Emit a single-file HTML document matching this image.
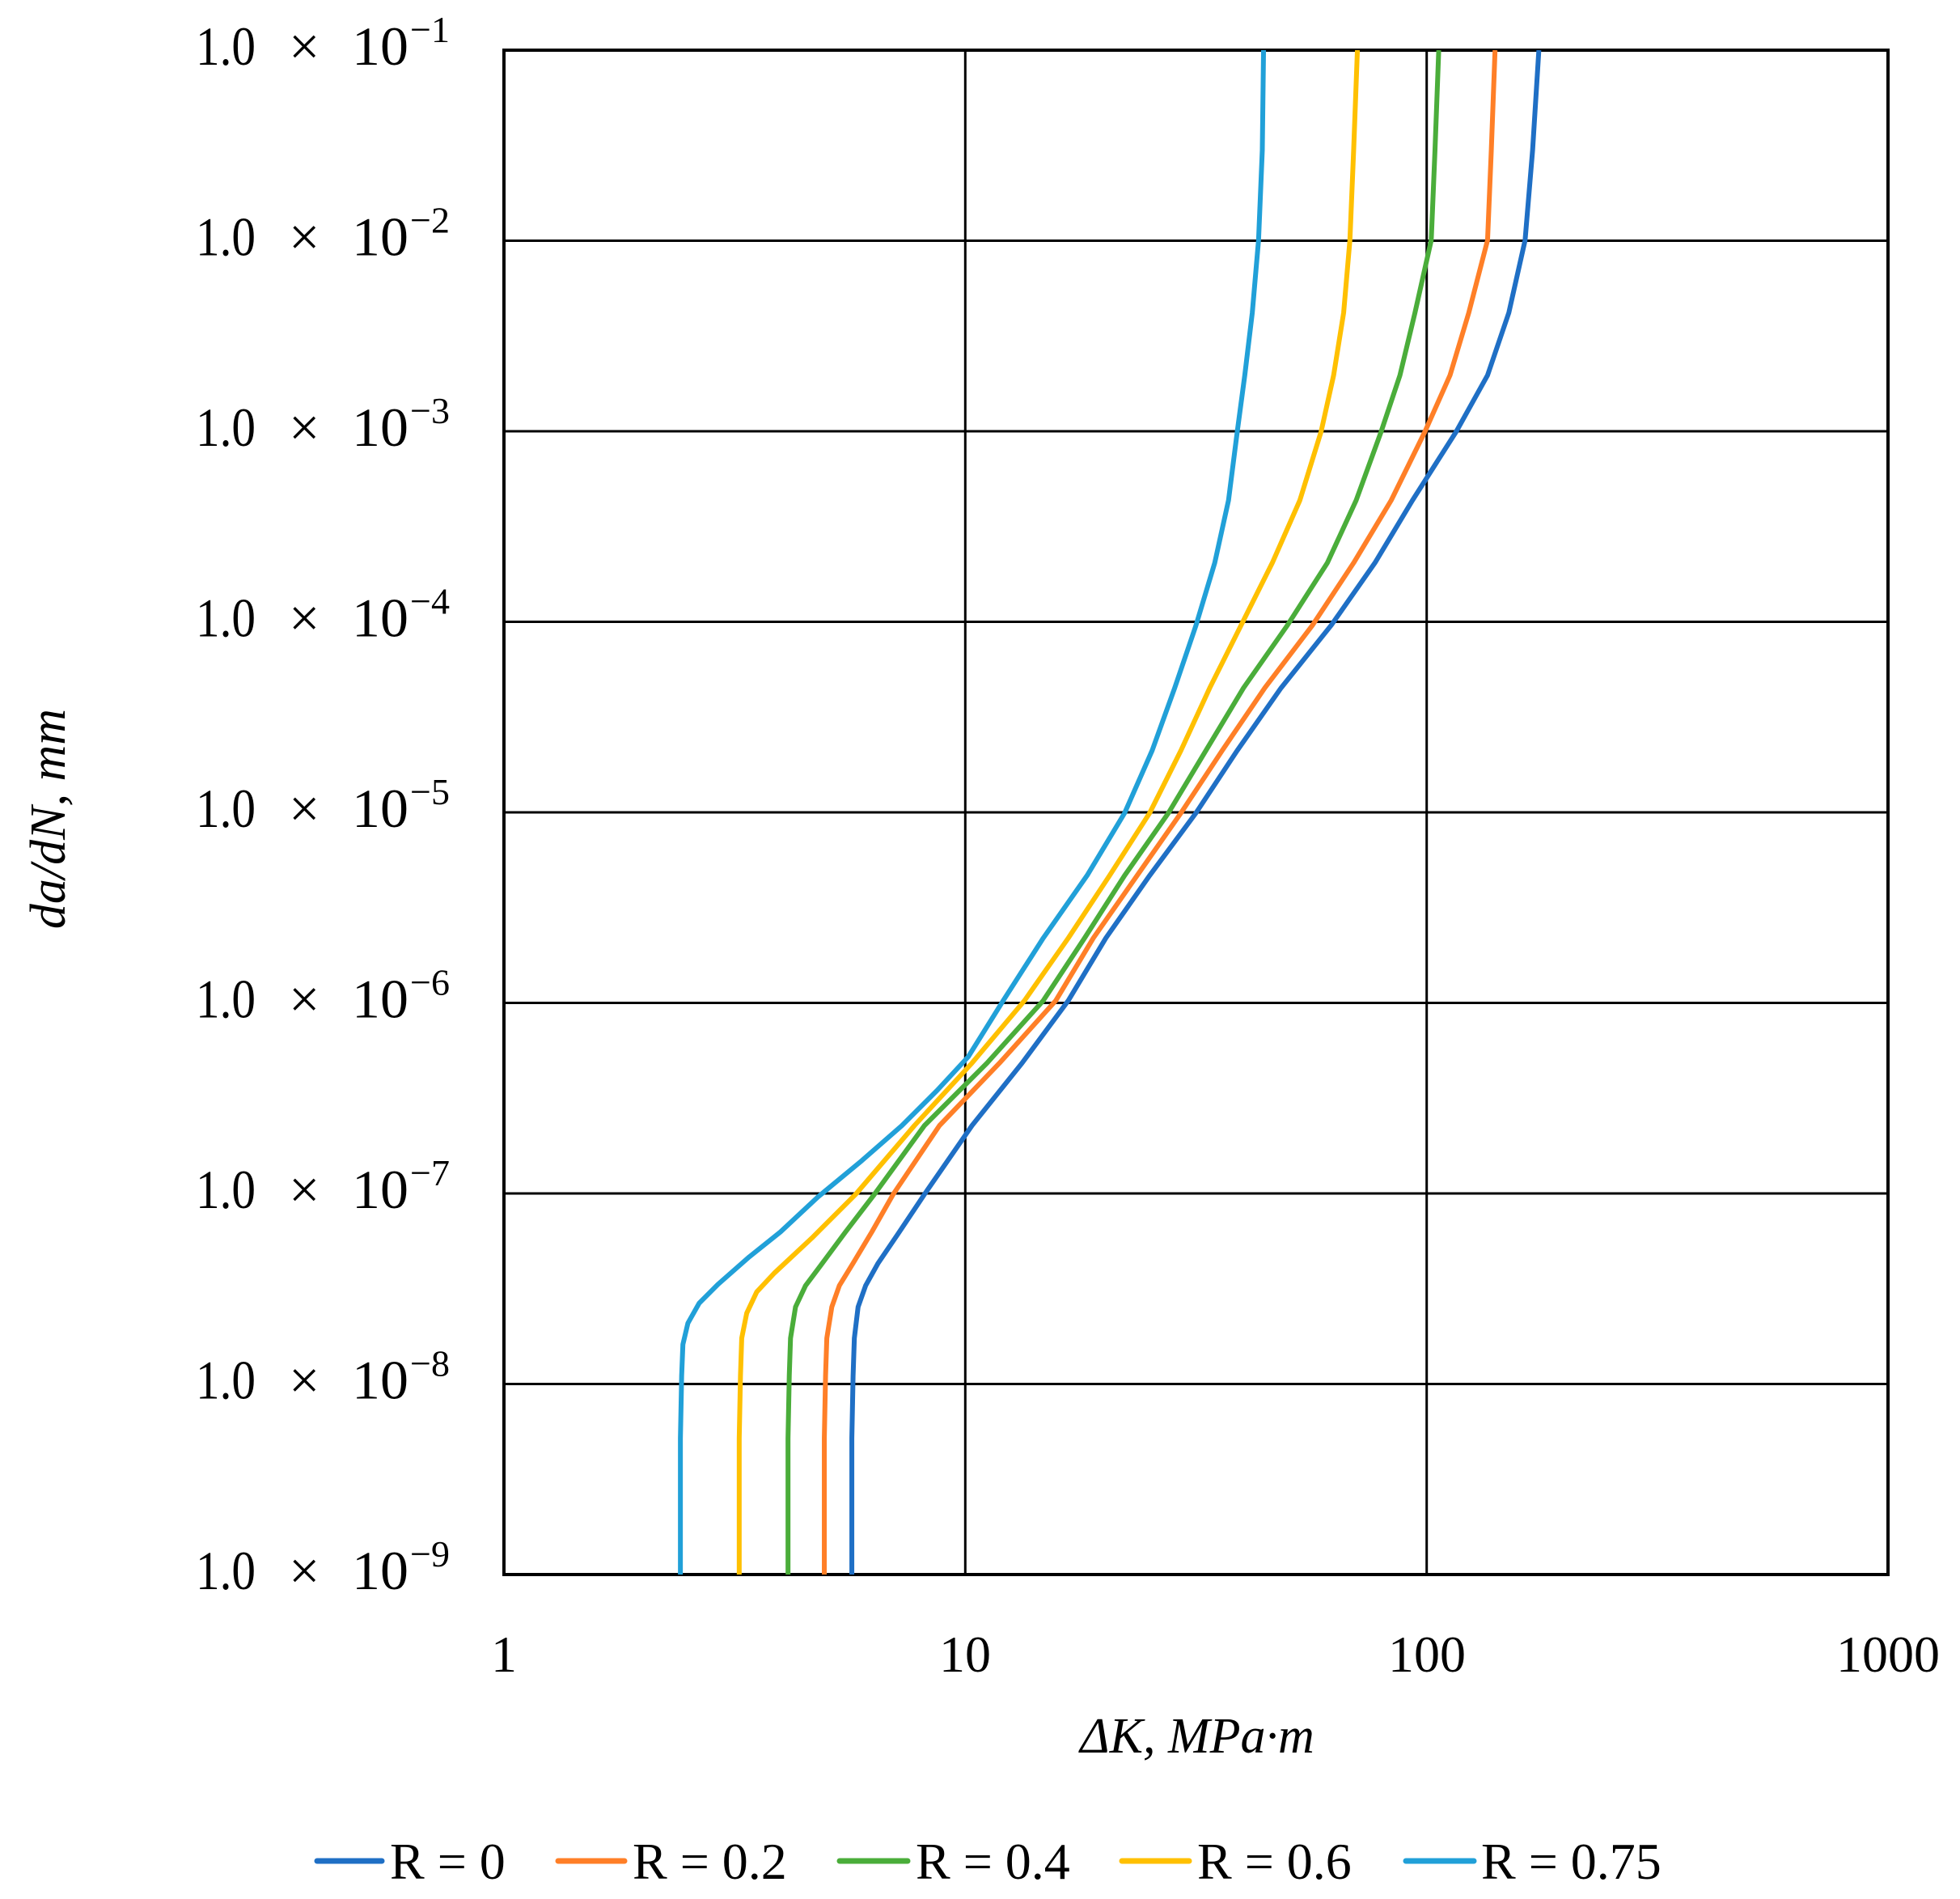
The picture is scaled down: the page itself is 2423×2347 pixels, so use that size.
<!DOCTYPE html>
<html><head><meta charset="utf-8"><style>
html,body{margin:0;padding:0;background:#fff}
svg{display:block}
text{font-family:"Liberation Serif","DejaVu Serif",serif;fill:#000}
</style></head><body>
<svg width="2423" height="2347" viewBox="0 0 2423 2347" xmlns="http://www.w3.org/2000/svg">
<rect width="2423" height="2347" fill="#fff"/>
<g stroke="#000" stroke-width="3">
<line x1="623" y1="297.5" x2="2334" y2="297.5"/>
<line x1="623" y1="533" x2="2334" y2="533"/>
<line x1="623" y1="768.5" x2="2334" y2="768.5"/>
<line x1="623" y1="1004" x2="2334" y2="1004"/>
<line x1="623" y1="1239.5" x2="2334" y2="1239.5"/>
<line x1="623" y1="1475" x2="2334" y2="1475"/>
<line x1="623" y1="1710.5" x2="2334" y2="1710.5"/>
<line x1="1193.3" y1="62" x2="1193.3" y2="1946"/>
<line x1="1763.7" y1="62" x2="1763.7" y2="1946"/>
</g>
<rect x="623" y="62" width="1711" height="1884" fill="none" stroke="#000" stroke-width="4"/>
<g transform="translate(623,62) scale(1.547,1.5455) translate(-404,-40)" fill="none" stroke-width="6" stroke-linejoin="round">
<polyline vector-effect="non-scaling-stroke" stroke="#1f6fc5" points="682,1259 682,1150 683,1100 684,1070 687,1045 693,1028 703,1010 720,985 740,955 778,900 818,850 855,800 885,750 920,700 957,650 990,600 1025,550 1065,500 1100,450 1130,400 1165,345 1190,300 1207,250 1220,192 1226,120 1231,40"/>
<polyline vector-effect="non-scaling-stroke" stroke="#ff7f27" points="660,1259 660,1150 661,1100 662,1070 666,1045 672,1028 683,1010 698,985 715,955 752,900 800,850 845,800 875,750 910,700 945,650 978,600 1012,550 1050,500 1083,450 1113,400 1140,345 1160,300 1175,250 1190,192 1193,120 1196,40"/>
<polyline vector-effect="non-scaling-stroke" stroke="#4aad3a" points="631,1259 631,1150 632,1100 633,1070 637,1045 645,1028 657,1012 677,985 700,955 740,900 790,850 835,800 868,750 900,700 935,650 965,600 995,550 1030,500 1062,450 1085,400 1105,345 1120,300 1132,250 1145,192 1148,120 1151,40"/>
<polyline vector-effect="non-scaling-stroke" stroke="#ffc000" points="592,1259 592,1150 593,1100 594,1070 598,1050 606,1033 620,1018 650,990 685,955 732,900 778,850 820,800 855,750 888,700 920,650 945,600 968,550 993,500 1018,450 1040,400 1057,345 1067,300 1075,250 1080,192 1083,120 1086,40"/>
<polyline vector-effect="non-scaling-stroke" stroke="#21a0d8" points="545,1259 545,1150 546,1100 547,1075 551,1058 560,1042 575,1027 600,1005 625,985 655,957 690,928 722,900 750,872 775,845 803,800 835,750 870,700 900,650 922,600 940,550 957,500 972,450 983,400 990,345 996,300 1002,250 1007,192 1010,120 1011,40"/>
</g>
<g font-size="68" id="yl">
<g transform="translate(0,0)"><text x="242" y="80" textLength="74" lengthAdjust="spacingAndGlyphs">1.0</text><text x="357" y="80">×</text><text x="435" y="80" textLength="70" lengthAdjust="spacingAndGlyphs">10</text><text x="507" y="52" font-size="46">−1</text></g>
<g transform="translate(0,235.5)"><text x="242" y="80" textLength="74" lengthAdjust="spacingAndGlyphs">1.0</text><text x="357" y="80">×</text><text x="435" y="80" textLength="70" lengthAdjust="spacingAndGlyphs">10</text><text x="507" y="52" font-size="46">−2</text></g>
<g transform="translate(0,471)"><text x="242" y="80" textLength="74" lengthAdjust="spacingAndGlyphs">1.0</text><text x="357" y="80">×</text><text x="435" y="80" textLength="70" lengthAdjust="spacingAndGlyphs">10</text><text x="507" y="52" font-size="46">−3</text></g>
<g transform="translate(0,706.5)"><text x="242" y="80" textLength="74" lengthAdjust="spacingAndGlyphs">1.0</text><text x="357" y="80">×</text><text x="435" y="80" textLength="70" lengthAdjust="spacingAndGlyphs">10</text><text x="507" y="52" font-size="46">−4</text></g>
<g transform="translate(0,942)"><text x="242" y="80" textLength="74" lengthAdjust="spacingAndGlyphs">1.0</text><text x="357" y="80">×</text><text x="435" y="80" textLength="70" lengthAdjust="spacingAndGlyphs">10</text><text x="507" y="52" font-size="46">−5</text></g>
<g transform="translate(0,1177.5)"><text x="242" y="80" textLength="74" lengthAdjust="spacingAndGlyphs">1.0</text><text x="357" y="80">×</text><text x="435" y="80" textLength="70" lengthAdjust="spacingAndGlyphs">10</text><text x="507" y="52" font-size="46">−6</text></g>
<g transform="translate(0,1413)"><text x="242" y="80" textLength="74" lengthAdjust="spacingAndGlyphs">1.0</text><text x="357" y="80">×</text><text x="435" y="80" textLength="70" lengthAdjust="spacingAndGlyphs">10</text><text x="507" y="52" font-size="46">−7</text></g>
<g transform="translate(0,1648.5)"><text x="242" y="80" textLength="74" lengthAdjust="spacingAndGlyphs">1.0</text><text x="357" y="80">×</text><text x="435" y="80" textLength="70" lengthAdjust="spacingAndGlyphs">10</text><text x="507" y="52" font-size="46">−8</text></g>
<g transform="translate(0,1884)"><text x="242" y="80" textLength="74" lengthAdjust="spacingAndGlyphs">1.0</text><text x="357" y="80">×</text><text x="435" y="80" textLength="70" lengthAdjust="spacingAndGlyphs">10</text><text x="507" y="52" font-size="46">−9</text></g>
</g>
<g font-size="64" text-anchor="middle">
<text x="623" y="2066">1</text>
<text x="1193" y="2066">10</text>
<text x="1764" y="2066">100</text>
<text x="2334" y="2066">1000</text>
</g>
<text x="1480" y="2166" font-size="62" font-style="italic" text-anchor="middle">ΔK, MPa·m</text>
<text transform="translate(80,1012) rotate(-90)" font-size="62" font-style="italic" text-anchor="middle">da/dN, mm</text>
<g stroke-width="7" stroke-linecap="round">
<line x1="392" y1="2300" x2="472" y2="2300" stroke="#1f6fc5"/>
<line x1="690" y1="2300" x2="772" y2="2300" stroke="#ff7f27"/>
<line x1="1038" y1="2300" x2="1122" y2="2300" stroke="#4aad3a"/>
<line x1="1387" y1="2300" x2="1470" y2="2300" stroke="#ffc000"/>
<line x1="1738" y1="2300" x2="1822" y2="2300" stroke="#21a0d8"/>
</g>
<g font-size="64">
<text x="482" y="2322">R = 0</text>
<text x="782" y="2322">R = 0.2</text>
<text x="1132" y="2322">R = 0.4</text>
<text x="1480" y="2322">R = 0.6</text>
<text x="1831" y="2322">R = 0.75</text>
</g>
</svg>
</body></html>
